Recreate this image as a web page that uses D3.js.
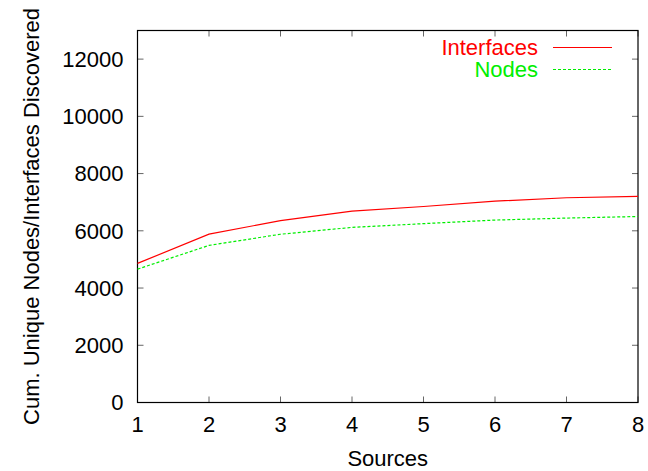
<!DOCTYPE html>
<html><head><meta charset="utf-8">
<script src="https://cdn.jsdelivr.net/npm/d3@7"></script>
<style>body{margin:0;background:#fff}svg{display:block}text{font-family:"Liberation Sans",Arial,sans-serif}</style>
</head><body>
<script>
const sources = [1, 2, 3, 4, 5, 6, 7, 8];
const interfaces = [4860, 5885, 6355, 6690, 6850, 7035, 7155, 7200];
const nodes = [4660, 5490, 5880, 6120, 6250, 6375, 6445, 6500];
const yTicks = [0, 2000, 4000, 6000, 8000, 10000, 12000];
const xTicks = [1, 2, 3, 4, 5, 6, 7, 8];

const W = 648, H = 471;
const FS = 22;
const m = {left: 137.5, right: 10, top: 30.5, bottom: 68.5};
const svg = d3.select("body").append("svg").attr("width", W).attr("height", H);
const x = d3.scaleLinear().domain([1, 8]).range([m.left, W - m.right]);
const y = d3.scaleLinear().domain([0, 13000]).range([H - m.bottom, m.top]);

const g = svg.append("g");
const tl = 6;
yTicks.forEach(t => {
  g.append("line").attr("x1", x.range()[0]).attr("x2", x.range()[0] + tl).attr("y1", y(t)).attr("y2", y(t)).attr("stroke", "#666");
  g.append("line").attr("x1", x.range()[1]).attr("x2", x.range()[1] - tl).attr("y1", y(t)).attr("y2", y(t)).attr("stroke", "#666");
  g.append("text").attr("x", x.range()[0] - 14).attr("y", y(t)).attr("dy", "0.36em").attr("text-anchor", "end").attr("font-size", FS).text(t);
});
xTicks.forEach(t => {
  g.append("line").attr("x1", x(t)).attr("x2", x(t)).attr("y1", y.range()[0]).attr("y2", y.range()[0] - tl).attr("stroke", "#666");
  g.append("line").attr("x1", x(t)).attr("x2", x(t)).attr("y1", y.range()[1]).attr("y2", y.range()[1] + tl).attr("stroke", "#666");
  g.append("text").attr("x", x(t)).attr("y", y.range()[0] + 29.5).attr("text-anchor", "middle").attr("font-size", FS).text(t);
});
g.append("rect").attr("x", x.range()[0]).attr("y", y.range()[1]).attr("width", x.range()[1] - x.range()[0]).attr("height", y.range()[0] - y.range()[1]).attr("fill", "none").attr("stroke", "#000").attr("stroke-width", 1.2);

const line = d3.line().x((d, i) => x(sources[i])).y(d => y(d));
g.append("path").datum(interfaces).attr("d", line).attr("fill", "none").attr("stroke", "#ff0000").attr("stroke-width", 1.2);
g.append("path").datum(nodes).attr("d", line).attr("fill", "none").attr("stroke", "#00ee00").attr("stroke-width", 1.2).attr("stroke-dasharray", "3,2");

// legend
g.append("text").attr("x", 538).attr("y", 55).attr("text-anchor", "end").attr("font-size", FS).attr("fill", "#ff0000").text("Interfaces");
g.append("line").attr("x1", 553).attr("x2", 612).attr("y1", 47.5).attr("y2", 47.5).attr("stroke", "#ff0000").attr("stroke-width", 1.2);
g.append("text").attr("x", 538).attr("y", 77).attr("text-anchor", "end").attr("font-size", FS).attr("fill", "#00ee00").text("Nodes");
g.append("line").attr("x1", 553).attr("x2", 612).attr("y1", 69.5).attr("y2", 69.5).attr("stroke", "#00ee00").attr("stroke-width", 1.2).attr("stroke-dasharray", "3,2");

// axis titles
g.append("text").attr("x", (x.range()[0] + x.range()[1]) / 2).attr("y", 466).attr("text-anchor", "middle").attr("font-size", FS).text("Sources");
g.append("text").attr("transform", `translate(39,${(y.range()[0] + y.range()[1]) / 2}) rotate(-90)`).attr("text-anchor", "middle").attr("font-size", FS).text("Cum. Unique Nodes/Interfaces Discovered");
</script>
</body></html>
